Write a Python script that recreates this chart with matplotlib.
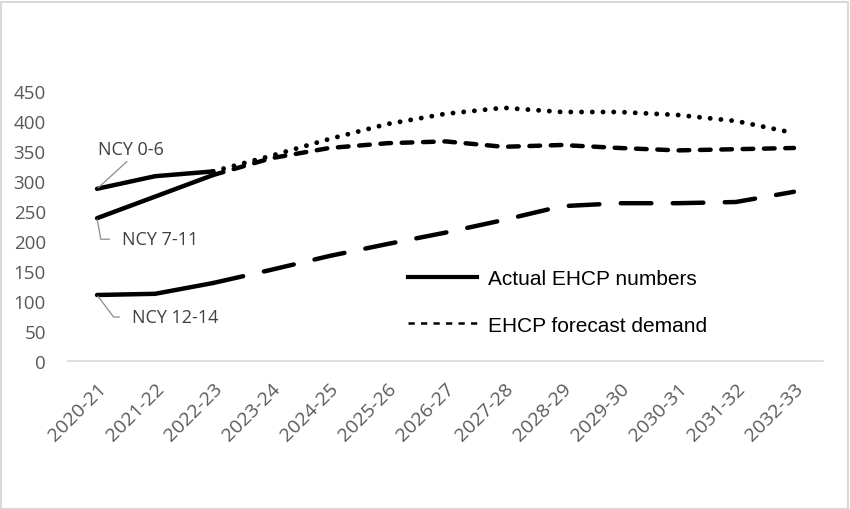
import matplotlib
matplotlib.use("Agg")
import matplotlib.pyplot as plt
from matplotlib.lines import Line2D
from matplotlib.patches import Rectangle

years = ["2020-21", "2021-22", "2022-23", "2023-24", "2024-25", "2025-26", "2026-27",
         "2027-28", "2028-29", "2029-30", "2030-31", "2031-32", "2032-33"]
n_actual = 3  # 2020-21 .. 2022-23 are actuals; forecast starts at 2022-23

ncy06_actual = [287, 308, 316]
ncy06_forecast = [316, 342, 370, 395, 412, 422, 415, 415, 410, 400, 380]

ncy711_actual = [238, 274, 310]
ncy711_forecast = [310, 338, 355, 363, 366, 357, 360, 355, 351, 353, 355]

ncy1214_actual = [110, 112, 130]
ncy1214_forecast = [130, 152, 175, 195, 214, 235, 258, 263, 263, 265, 282]

yticks = [0, 50, 100, 150, 200, 250, 300, 350, 400, 450]

W, H = 850, 510
fig = plt.figure(figsize=(8.5, 5.1), dpi=100)
ax = fig.add_axes([68 / W, 1 - 362 / H, (823 - 68) / W, (362 - 92) / H])

xa = list(range(n_actual))
xf = list(range(n_actual - 1, len(years)))

lw = 3.2
# actual (solid)
for vals in (ncy06_actual, ncy711_actual, ncy1214_actual):
    ax.plot(xa, vals, color="black", lw=lw, solid_capstyle="round", zorder=3)
# forecasts
ax.plot(xf, ncy06_forecast, color="black", lw=3.5, linestyle=(0, (0.01, 2.2)),
        dash_capstyle="round", zorder=2)
ax.plot(xf, ncy711_forecast, color="black", lw=lw, linestyle=(0, (2.4, 2.4)),
        dash_capstyle="round", zorder=2)
ax.plot(xf, ncy1214_forecast, color="black", lw=lw, linestyle=(0, (6.9, 4.8)),
        dash_capstyle="round", zorder=2)

ax.set_xlim(-0.5, len(years) - 0.5)
ax.set_ylim(0, 450)
ax.set_yticks(yticks)
ax.set_xticks(range(len(years)))

tick_font = "Open Sans"
ax.set_yticklabels([str(v) for v in yticks], fontsize=13.5, color="#595959", family=tick_font)
ax.set_xticklabels(years, fontsize=14, color="#595959", family=tick_font,
                   rotation=45, ha="right", va="top", rotation_mode="anchor")
ax.tick_params(axis="y", length=0, pad=16)
ax.tick_params(axis="x", length=0, pad=13)

for s in ("top", "right", "left"):
    ax.spines[s].set_visible(False)
ax.spines["bottom"].set_color("#d9d9d9")
ax.spines["bottom"].set_linewidth(1.2)

# annotations
lead = dict(arrowstyle="-", color="#8c8c8c", lw=0.9, shrinkA=1, shrinkB=1)
ann_kw = dict(fontsize=13, color="#404040", family=tick_font, textcoords="offset pixels")
ax.annotate("NCY 0-6", xy=(0, ncy06_actual[0]), xytext=(1, 40), ha="left", va="center",
            arrowprops=dict(lead, relpos=(0.5, 0.0)), **ann_kw)
ax.annotate("NCY 7-11", xy=(0, ncy711_actual[0]), xytext=(25, -21), ha="left", va="center",
            arrowprops=dict(lead, relpos=(0.0, 0.5), shrinkA=7,
                            connectionstyle="angle,angleA=0,angleB=100,rad=0"), **ann_kw)
ax.annotate("NCY 12-14", xy=(0, ncy1214_actual[0]), xytext=(35, -22), ha="left", va="center",
            arrowprops=dict(lead, relpos=(0.0, 0.5), shrinkA=7,
                            connectionstyle="angle,angleA=0,angleB=127,rad=0"), **ann_kw)

handles = [Line2D([], [], color="black", lw=3.0),
           Line2D([], [], color="black", lw=1.8, linestyle=(0, (2.5, 2.5)))]
leg = ax.legend(handles, ["Actual EHCP numbers", "EHCP forecast demand"],
                loc="center left", bbox_to_anchor=(408 / W, 1 - 303 / H),
                bbox_transform=fig.transFigure, frameon=False,
                prop={"family": "Liberation Sans", "size": 15},
                handlelength=3.3, handletextpad=0.55, labelspacing=1.32,
                borderpad=0, borderaxespad=0)

fig.patches.append(Rectangle((0.5 / W, 0.5 / H), 1 - 3 / W, 1 - 3 / H,
                             transform=fig.transFigure, fill=False,
                             edgecolor="#d9d9d9", lw=1.5))

fig.savefig("out.png", dpi=100)
